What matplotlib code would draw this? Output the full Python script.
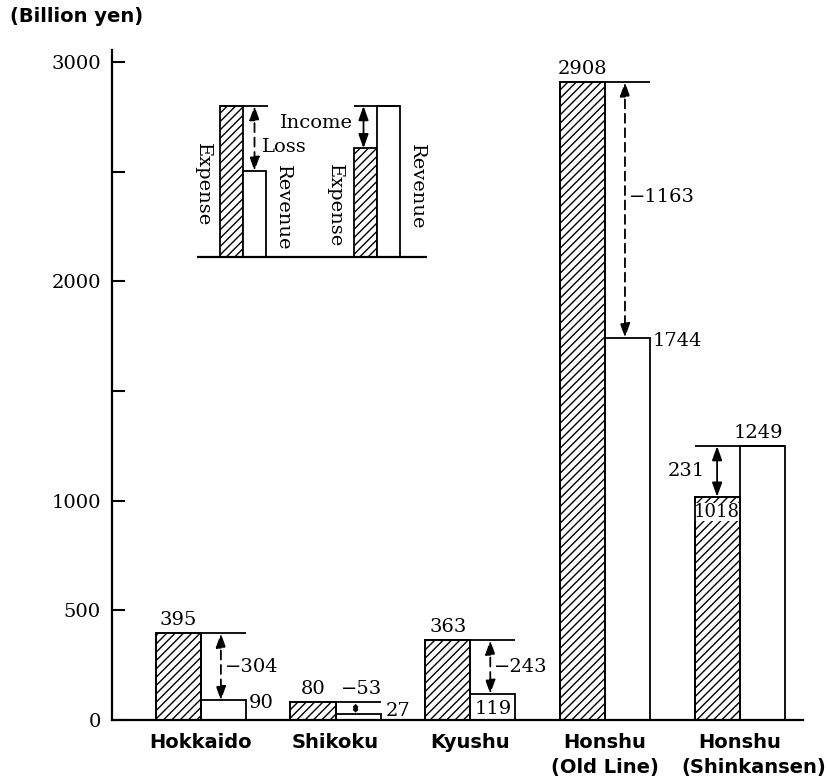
import matplotlib.pyplot as plt
from matplotlib.transforms import offset_copy
import numpy as np

# JNR regional accounts (billion yen)
regions = ['Hokkaido', 'Shikoku', 'Kyushu', 'Honshu', 'Honshu']
subnames = ['', '', '', '(Old Line)', '(Shinkansen)']
expense = [395, 80, 363, 2908, 1018]
revenue = [90, 27, 119, 1744, 1249]
balance = [-304, -53, -243, -1163, 231]
yticks = [0, 500, 1000, 1500, 2000, 2500, 3000]
ytick_labels = ['0', '500', '1000', '', '2000', '', '3000']

# schematic key (relative heights)
key_loss = [1.0, 0.57]      # expense, revenue
key_income = [0.72, 1.0]    # expense, revenue

plt.rcParams['hatch.linewidth'] = 1.0
num_font = dict(family='DejaVu Serif', fontsize=14)
cat_font = dict(family='DejaVu Sans', fontweight='bold', fontsize=14)

fig = plt.figure(figsize=(8.29, 7.8), dpi=100)
ax = fig.add_axes([0.1351, 0.0769, 0.8335, 0.859])

x = np.arange(len(regions))
w = 0.335
ymax = 3055
py = ymax / 670.0   # data units per pixel (y)
px = 1 / 134.75     # data units per pixel (x)

ax.bar(x - w / 2, expense, w, color='white', edgecolor='black', hatch='////', lw=1.3, zorder=2)
ax.bar(x + w / 2, revenue, w, color='white', edgecolor='black', lw=1.3, zorder=2)
# outlines again on top of the label boxes
ax.bar(x - w / 2, expense, w, fill=False, edgecolor='black', lw=1.3, zorder=6)


def arrow(a, xa, y0, y1, dashed=True, scale=12):
    a.annotate('', xy=(xa, y1), xytext=(xa, y0),
               arrowprops=dict(arrowstyle='<|-|>,head_length=0.7,head_width=0.25',
                               lw=1.3, color='black', ls=(0, (5, 3)) if dashed else '-',
                               shrinkA=0, shrinkB=0, mutation_scale=scale), zorder=4)


for i in range(len(regions)):
    e, r, b = expense[i], revenue[i], balance[i]
    top = max(e, r)
    ax.hlines(top, x[i] - w, x[i] + w, color='black', lw=1.3, zorder=3)
    mid = (e + r) / 2
    lbl = ('\u2212%d' % -b) if b < 0 else '%d' % b
    if b < 0:
        xa = x[i] + 20 * px
        ax.text(x[i] - w / 2, e + 4 * py, str(e), ha='center', va='bottom', **num_font)
        if i == 1:
            arrow(ax, xa, e, r, dashed=False, scale=5)
            ax.text(xa + 6 * px, e + 4 * py, lbl, ha='center', va='bottom', **num_font)
            ax.text(x[i] + w + 5 * px, r + 12 * py, str(r), ha='left', va='top', **num_font)
        else:
            arrow(ax, xa, e, r)
            yl = mid + 60 if i == 3 else mid
            ax.text(xa + 4 * px, yl, lbl, ha='left', va='center', **num_font)
            if i == 2:
                ax.text(x[i] + w / 2, r - 6 * py, str(r), ha='center', va='top', **num_font)
            else:
                ax.text(x[i] + w + 3 * px, r + 6 * py, str(r), ha='left', va='top', **num_font)
    else:
        xa = x[i] - w / 2
        arrow(ax, xa, r, e, dashed=False)
        ax.text(xa - 12 * px, mid, lbl, ha='right', va='center', **num_font)
        ax.text(x[i] + w / 2 - 4 * px, r + 4 * py, str(r), ha='center', va='bottom', **num_font)
        ax.text(x[i] - w / 2, e - 6 * py, str(e), ha='center', va='top', family='DejaVu Serif',
                fontsize=13, bbox=dict(facecolor='white', edgecolor='none', pad=0), zorder=5)

ax.set_xlim(-0.66, 4.47)
ax.set_ylim(0, ymax)
ax.set_yticks(yticks)
ax.set_yticklabels(ytick_labels, **num_font)
ax.tick_params(axis='y', direction='in', length=9, width=1.5, pad=8)
ax.set_xticks(x)
ax.set_xticklabels(regions, **cat_font)
ax.tick_params(axis='x', length=0, pad=9)

# second line of the Honshu labels
shift = [0, 0, 0, 0, 10]
for i in range(len(regions)):
    if subnames[i]:
        tr = offset_copy(ax.get_xaxis_transform(), fig=fig, x=shift[i], y=-34.5, units='points')
        ax.text(x[i], 0, subnames[i], transform=tr, ha='center', va='center', **cat_font)

for s in ['top', 'right']:
    ax.spines[s].set_visible(False)
ax.spines['left'].set_linewidth(1.6)
ax.spines['bottom'].set_linewidth(1.6)

fig.text(10 / 829, 1 - 16 / 780, '(Billion yen)', ha='left', va='center', **cat_font)

# key drawing
k = fig.add_axes([190 / 829, 1 - 262 / 780, 240 / 829, 167 / 780])
k.set_xlim(0, 240)
k.set_ylim(-5 / 151, 162 / 151)
k.axis('off')
k.patch.set_alpha(0)
kw = 23
centers = [53, 187]
k.bar(centers[0] - kw / 2, key_loss[0], kw, color='white', edgecolor='black', hatch='////', lw=1.3)
k.bar(centers[0] + kw / 2, key_loss[1], kw, color='white', edgecolor='black', lw=1.3)
k.bar(centers[1] - kw / 2, key_income[0], kw, color='white', edgecolor='black', hatch='////', lw=1.3)
k.bar(centers[1] + kw / 2, key_income[1], kw, color='white', edgecolor='black', lw=1.3)
k.hlines(max(key_loss), centers[0] - kw, centers[0] + kw + 2, color='black', lw=1.3)
k.hlines(max(key_income), centers[1] - kw, centers[1] + kw, color='black', lw=1.3)
k.hlines(0, 7, 237, color='black', lw=1.6)
arrow(k, centers[0] + kw / 2, key_loss[0], key_loss[1])
arrow(k, centers[1] - kw / 2 - 2, key_income[1], key_income[0], dashed=False)
k.text(13, 0.477, 'Expense', rotation=-90, ha='center', va='center', **num_font)
k.text(93, 0.325, 'Revenue', rotation=-90, ha='center', va='center', **num_font)
k.text(72, 0.728, 'Loss', ha='left', va='center', **num_font)
k.text(90, 0.887, 'Income', ha='left', va='center', **num_font)
k.text(145, 0.338, 'Expense', rotation=-90, ha='center', va='center', **num_font)
k.text(227, 0.464, 'Revenue', rotation=-90, ha='center', va='center', **num_font)

fig.savefig('out.png', dpi=100, facecolor='white')
